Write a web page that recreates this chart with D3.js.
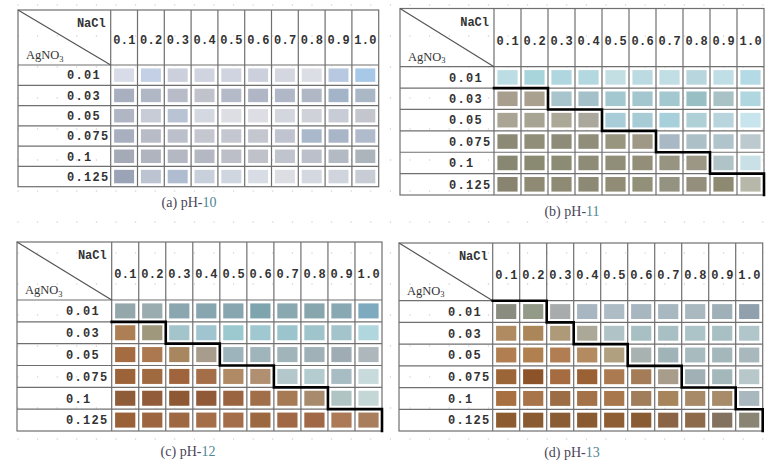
<!DOCTYPE html>
<html>
<head>
<meta charset="utf-8">
<script src="https://cdn.jsdelivr.net/npm/d3@7"></script>
<style>
  body { margin: 0; background: #fff; }
  svg { display: block; }
</style>
</head>
<body>
<div id="chart"></div>
<script>
// categories
var nacl = ["0.1", "0.2", "0.3", "0.4", "0.5", "0.6", "0.7", "0.8", "0.9", "1.0"];
var agno3 = ["0.01", "0.03", "0.05", "0.075", "0.1", "0.125"];
var captions = ["(a) pH-", "(b) pH-", "(c) pH-", "(d) pH-"];
var phValues = ["10", "11", "12", "13"];

// swatch colours, one row per AgNO3 level
var colorsPH10 = [
  ["#d8dce8", "#c4d0e6", "#ccd0dc", "#d0d4e0", "#d0d4e0", "#ccd0dc", "#d4d6e0", "#dcdee6", "#b8c8e0", "#a8c8e8"],
  ["#a8b0c0", "#b0b8c6", "#b8bcc8", "#c0c2cc", "#b4bac8", "#b0b6c6", "#b0b8c8", "#b0b8c6", "#a4b4c8", "#aab8c6"],
  ["#b0b6c4", "#c8ccd6", "#b8c4d4", "#d4d8e0", "#dcdee4", "#dcdee4", "#d4d6de", "#d0d2da", "#c8ccd6", "#c4c6ce"],
  ["#a8b0c0", "#b8bcc6", "#bcc0ca", "#c4c6d0", "#c4c6d0", "#c4c6d0", "#c0c4d0", "#aab8cc", "#a8b6c8", "#b0bccc"],
  ["#a4aab6", "#b0b4be", "#b4b8c2", "#b4b8c2", "#bcbfc8", "#c0c2ca", "#c0c4cc", "#bcc0ca", "#b4bac4", "#acb4bc"],
  ["#9aa4b6", "#bcc4d2", "#b0bcd0", "#c8d0dc", "#d0d6e0", "#d8dce4", "#dcdee4", "#d4d8e0", "#d0d4dc", "#c8ccd4"]
];
var colorsPH11 = [
  ["#bcdde4", "#a8d4dc", "#b0d6e0", "#b4d8e0", "#c4dfe4", "#bcdae2", "#c0dee4", "#b8d6de", "#c0dee6", "#b4dae6"],
  ["#a89e8e", "#aaa090", "#a8c4cc", "#a4c0c8", "#a4c8d0", "#a4c6ce", "#a4c8d0", "#98c0c4", "#a8c2c6", "#b0d6e0"],
  ["#aaa494", "#a8a494", "#aca898", "#aaa89c", "#a8ccd8", "#a8ccd6", "#a8d0da", "#b0d0d8", "#b8d4dc", "#c8e4ec"],
  ["#8c8a74", "#908e78", "#8e8c78", "#908e7a", "#98967e", "#a09886", "#a8b8c4", "#acc0c8", "#b0c4cc", "#bccad0"],
  ["#888872", "#8a8a72", "#8c8c74", "#8e8c76", "#908e78", "#928e78", "#989482", "#9c9684", "#b0c4c8", "#c8e0e6"],
  ["#888470", "#8e8a74", "#8e8a74", "#8c8a74", "#908c76", "#929078", "#949280", "#948e7c", "#8e8a72", "#b8b8aa"]
];
var colorsPH12 = [
  ["#94a8ac", "#9aacb0", "#8aa6ae", "#88a6b0", "#88a6b0", "#7ea4ae", "#8aa8b0", "#88a6ae", "#88a8b4", "#7eaac0"],
  ["#ac8054", "#a0987c", "#a4c4cc", "#a0c4d0", "#9cc8d0", "#a0c8d0", "#9cc4cc", "#a0c4cc", "#a4c4cc", "#b0d6de"],
  ["#a46c40", "#ac7850", "#a88660", "#a89c8c", "#9eb4bc", "#a0b4bc", "#a0b4ba", "#a0b2b8", "#a0acb4", "#aeb8bc"],
  ["#9c6238", "#a06a40", "#a0643c", "#a46e48", "#b08a64", "#b09070", "#b4c8cc", "#b4ccd0", "#a8bcc4", "#c8dadc"],
  ["#8e5c38", "#925c3a", "#8e5834", "#905a38", "#9a6440", "#a06e48", "#a67a54", "#a88a6c", "#b0c4c4", "#c4d6d6"],
  ["#9a6038", "#9e6640", "#9e6842", "#a46e48", "#a46e4a", "#9c6840", "#a06844", "#a06846", "#ac7a56", "#a87e5c"]
];
var colorsPH13 = [
  ["#8a8c80", "#949a88", "#a8acac", "#a8b6c2", "#aebcc6", "#a8b6c0", "#a8b8c0", "#aab8c0", "#a0b0b8", "#90a0ac"],
  ["#b08a60", "#aa8658", "#ae9a78", "#aca898", "#b0c4c8", "#a8c0c4", "#a8c0c4", "#acc4c8", "#a8c0c4", "#b0c6ca"],
  ["#b07e50", "#b0804e", "#b07e52", "#b48a60", "#b0a080", "#a8b2b0", "#a0b4b8", "#a8bcc0", "#a4b8bc", "#a8b8bc"],
  ["#9c6538", "#8c5228", "#a46c40", "#9a6234", "#ac7a50", "#a47c58", "#a89c8a", "#a0b0b4", "#a4b8bc", "#b8c8ca"],
  ["#a87040", "#a8744a", "#9c6c44", "#a47248", "#a8784c", "#a07e5c", "#a8845c", "#a88a68", "#a88c6a", "#a8b8be"],
  ["#8c5c30", "#8a5a30", "#8a5c34", "#8a5a30", "#8e5e34", "#8a5c34", "#8a6444", "#8c6a4a", "#847260", "#8a8474"]
];

// number of brown (precipitate) cells per AgNO3 row; null = no boundary drawn
var brownPH10 = null;
var brownPH11 = [0, 2, 4, 6, 8, 10];
var brownPH12 = [0, 2, 4, 6, 8, 10];
var brownPH13 = [2, 3, 5, 7, 9, 10];

var allColors = [colorsPH10, colorsPH11, colorsPH12, colorsPH13];
var allBrown = [brownPH10, brownPH11, brownPH12, brownPH13];

// panel placement
var width = 775;
var height = 469;
var panels = [
  {left: 18,  dataLeft: 110.7, right: 378.7, top: 10,  headBottom: 65,    bottom: 186.7, capX: 189, capY: 207},
  {left: 400, dataLeft: 494,   right: 764,   top: 8.5, headBottom: 66.7,  bottom: 195,   capX: 572, capY: 216},
  {left: 17,  dataLeft: 111.7, right: 382,   top: 242, headBottom: 300,   bottom: 431,   capX: 188, capY: 456},
  {left: 399, dataLeft: 492.7, right: 762.7, top: 243, headBottom: 300.7, bottom: 431,   capX: 572, capY: 457}
];

var gridColor = "#6f6f6f";
var textColor = "#333333";
var monoFont = "'Liberation Mono', 'DejaVu Sans Mono', monospace";
var serifFont = "'Liberation Serif', 'DejaVu Serif', serif";

var svg = d3.select("#chart")
            .append("svg")
            .attr("width", width)
            .attr("height", height);

// faint layout dots in the background
var dotGroup = svg.append("g").attr("fill", "#cfcfd4");
d3.range(18, width, 19.6).forEach(function(x) {
  d3.range(5, height, 31).forEach(function(y) {
    dotGroup.append("circle").attr("cx", x).attr("cy", y).attr("r", 0.7);
  });
});

panels.forEach(function(p, i) {
  var g = svg.append("g");
  var colors = allColors[i];

  var x = d3.scaleBand().domain(nacl).range([p.dataLeft, p.right]);
  var y = d3.scaleBand().domain(agno3).range([p.headBottom, p.bottom]);
  function xEdge(k) { return k < nacl.length ? x(nacl[k]) : p.right; }
  function yEdge(k) { return k < agno3.length ? y(agno3[k]) : p.bottom; }

  // swatches
  agno3.forEach(function(row, r) {
    g.selectAll(null)
     .data(nacl)
     .enter().append("rect")
     .attr("x", function(d) { return x(d) + 2.5; })
     .attr("y", y(row) + 2.5)
     .attr("width", x.bandwidth() - 5)
     .attr("height", y.bandwidth() - 5)
     .attr("fill", function(d, c) { return colors[r][c]; })
     .attr("stroke", "#ffffff")
     .attr("stroke-width", 1.8);
  });

  // grid lines
  var lines = g.append("g")
               .attr("stroke", gridColor)
               .attr("stroke-width", 1.2)
               .attr("fill", "none");
  lines.append("rect")
       .attr("x", p.left).attr("y", p.top)
       .attr("width", p.right - p.left).attr("height", p.bottom - p.top);
  d3.range(0, nacl.length).forEach(function(k) {
    lines.append("line")
         .attr("x1", xEdge(k)).attr("x2", xEdge(k))
         .attr("y1", p.top).attr("y2", p.bottom);
  });
  d3.range(0, agno3.length).forEach(function(k) {
    lines.append("line")
         .attr("x1", p.left).attr("x2", p.right)
         .attr("y1", yEdge(k)).attr("y2", yEdge(k));
  });
  // corner diagonal
  lines.append("line")
       .attr("x1", p.left).attr("y1", p.top)
       .attr("x2", p.dataLeft).attr("y2", p.headBottom)
       .attr("stroke", "#555");

  // header labels
  g.selectAll(null)
   .data(nacl)
   .enter().append("text")
   .attr("x", function(d) { return x(d) + x.bandwidth() / 2 + 0.3; })
   .attr("y", p.top + (p.headBottom - p.top) * 0.55)
   .attr("dy", "0.35em")
   .attr("text-anchor", "middle")
   .attr("font-family", monoFont)
   .attr("font-weight", "bold")
   .attr("font-size", 12)
   .attr("letter-spacing", 0.3)
   .attr("fill", textColor)
   .text(function(d) { return d; });

  // row labels
  g.selectAll(null)
   .data(agno3)
   .enter().append("text")
   .attr("x", p.left + 49)
   .attr("y", function(d) { return y(d) + y.bandwidth() / 2; })
   .attr("dy", "0.36em")
   .attr("font-family", monoFont)
   .attr("font-weight", "bold")
   .attr("font-size", 12)
   .attr("letter-spacing", 1.3)
   .attr("fill", textColor)
   .text(function(d) { return d; });

  // corner labels
  g.append("text")
   .attr("x", p.dataLeft - 5)
   .attr("y", p.top + 13)
   .attr("dy", "0.35em")
   .attr("text-anchor", "end")
   .attr("font-family", monoFont)
   .attr("font-weight", "bold")
   .attr("font-size", 12)
   .attr("fill", textColor)
   .text("NaCl");
  var ag = g.append("text")
            .attr("x", p.left + 8)
            .attr("y", p.headBottom - 10)
            .attr("dy", "0.35em")
            .attr("font-family", serifFont)
            .attr("font-size", 12.5)
            .attr("fill", textColor);
  ag.append("tspan").text("AgNO");
  ag.append("tspan").attr("font-size", 8.5).attr("dy", "0.25em").text("3");

  // precipitation boundary
  var brown = allBrown[i];
  if (brown) {
    var r0 = brown.findIndex(function(b) { return b > 0; });
    var pts = [[p.dataLeft, yEdge(r0)]];
    for (var r = r0; r < agno3.length; r++) {
      pts.push([xEdge(brown[r]), yEdge(r)]);
      pts.push([xEdge(brown[r]), yEdge(r + 1)]);
    }
    g.append("path")
     .attr("d", d3.line()(pts))
     .attr("fill", "none")
     .attr("stroke", "#000")
     .attr("stroke-width", 2.6)
     .attr("stroke-linejoin", "miter")
     .attr("stroke-linecap", "square");
  }

  // caption
  var cap = svg.append("text")
               .attr("x", p.capX)
               .attr("y", p.capY)
               .attr("text-anchor", "middle")
               .attr("font-family", serifFont)
               .attr("font-size", 14)
               .attr("fill", "#4a4458");
  cap.append("tspan").text(captions[i]);
  cap.append("tspan").attr("fill", "#4f8595").text(phValues[i]);
});
</script>
</body>
</html>
